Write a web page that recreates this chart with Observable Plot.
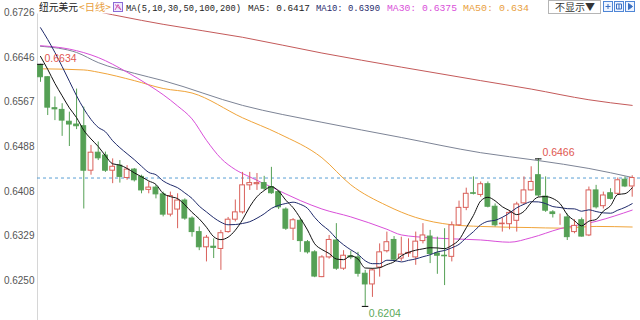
<!DOCTYPE html>
<html><head><meta charset="utf-8">
<script src="https://cdn.jsdelivr.net/npm/d3@7"></script>
<script src="https://cdn.jsdelivr.net/npm/@observablehq/plot@0.6"></script>
<style>
html,body{margin:0;padding:0;background:#fff;}
#wrap{position:relative;width:640px;height:320px;overflow:hidden;}
#hdr{position:absolute;left:0;top:0;}
</style></head>
<body><div id="wrap"><div id="chart"></div><svg id="hdr" width="640" height="16"></svg></div>
<script>
// ---- daily candles (NZD/USD), day index 0..82 ----
const opens  = [0.6632,0.6611,0.6556,0.6553,0.6532,0.6527,0.6524,0.6445,0.6477,0.6472,
                0.6445,0.6454,0.6432,0.6447,0.6434,0.6411,0.6415,0.6403,0.6367,0.6376,
                0.6392,0.6360,0.6336,0.6309,0.6310,0.6306,0.6336,0.6358,0.6371,0.6419,
                0.6421,0.6423,0.6416,0.6407,0.6376,0.6342,0.6356,0.6318,0.6300,0.6256,
                0.6291,0.6321,0.6271,0.6293,0.6291,0.6262,0.6243,0.6273,0.6302,0.6322,
                0.6289,0.6298,0.6291,0.6320,0.6328,0.6298,0.6294,0.6292,0.6348,0.6379,
                0.6405,0.6402,0.6421,0.6381,0.6350,0.6350,0.6356,0.6387,0.6410,0.6437,
                0.6399,0.6371,0.6365,0.6362,0.6336,0.6357,0.6330,0.6410,0.6382,0.6405,
                0.6404,0.6429,0.6417];
const highs  = [0.6634,0.6612,0.6576,0.6564,0.6549,0.6590,0.6558,0.6490,0.6496,0.6478,
                0.6466,0.6463,0.6454,0.6449,0.6437,0.6425,0.6419,0.6407,0.6407,0.6404,
                0.6395,0.6363,0.6345,0.6330,0.6324,0.6339,0.6362,0.6393,0.6442,0.6442,
                0.6440,0.6435,0.6451,0.6410,0.6379,0.6360,0.6360,0.6321,0.6303,0.6294,
                0.6330,0.6351,0.6303,0.6302,0.6300,0.6268,0.6271,0.6315,0.6336,0.6328,
                0.6327,0.6324,0.6336,0.6351,0.6339,0.6327,0.6342,0.6354,0.6391,0.6414,
                0.6434,0.6425,0.6425,0.6386,0.6361,0.6374,0.6389,0.6434,0.6452,0.6466,
                0.6434,0.6374,0.6368,0.6368,0.6358,0.6361,0.6416,0.6419,0.6407,0.6413,
                0.6432,0.6434,0.6436];
const lows   = [0.6602,0.6543,0.6534,0.6506,0.6488,0.6518,0.6377,0.6437,0.6463,0.6442,
                0.6422,0.6423,0.6428,0.6425,0.6404,0.6404,0.6395,0.6363,0.6363,0.6342,
                0.6357,0.6327,0.6303,0.6283,0.6289,0.6268,0.6334,0.6354,0.6368,0.6410,
                0.6410,0.6410,0.6403,0.6376,0.6339,0.6321,0.6300,0.6297,0.6255,0.6255,
                0.6288,0.6268,0.6268,0.6287,0.6256,0.6204,0.6220,0.6256,0.6299,0.6284,
                0.6284,0.6291,0.6277,0.6315,0.6280,0.6261,0.6241,0.6283,0.6346,0.6374,
                0.6402,0.6398,0.6379,0.6345,0.6336,0.6340,0.6336,0.6385,0.6409,0.6398,
                0.6371,0.6361,0.6348,0.6321,0.6333,0.6327,0.6328,0.6377,0.6377,0.6393,
                0.6401,0.6415,0.6398];
const closes = [0.6611,0.6557,0.6554,0.6534,0.6527,0.6524,0.6445,0.6477,0.6467,0.6445,
                0.6452,0.6434,0.6447,0.6428,0.6410,0.6415,0.6403,0.6367,0.6400,0.6392,
                0.6360,0.6336,0.6309,0.6326,0.6308,0.6334,0.6358,0.6371,0.6419,0.6423,
                0.6423,0.6413,0.6405,0.6380,0.6342,0.6357,0.6320,0.6300,0.6257,0.6291,
                0.6322,0.6271,0.6294,0.6291,0.6262,0.6243,0.6268,0.6300,0.6318,0.6287,
                0.6296,0.6299,0.6319,0.6330,0.6297,0.6294,0.6293,0.6348,0.6379,0.6404,
                0.6404,0.6421,0.6381,0.6348,0.6351,0.6370,0.6385,0.6410,0.6425,0.6401,
                0.6374,0.6368,0.6365,0.6327,0.6347,0.6328,0.6410,0.6380,0.6401,0.6395,
                0.6428,0.6417,0.6432];

// ---- moving averages ----
// first values of MA5 / MA10 (need history before the visible window)
const ma5Lead  = [0.6648,0.6625,0.6600,0.6578];
const ma10Lead = [0.6699,0.6678,0.6655,0.6630,0.6604,0.6578,0.6555,0.6536,0.6522];
// [day, value]
const ma30  = [[0,0.6667],[4,0.6661],[8,0.6646],[12,0.6620],[15,0.6597],[17,0.6580],[19,0.6560],
               [21,0.6537],[23,0.6499],[25,0.6467],[27,0.6447],[29,0.6434],[32,0.6416],[36,0.6392],
               [39,0.6377],[43,0.6363],[48,0.6341],[50,0.6331],[54,0.6326],[57,0.6324],[61,0.6322],
               [65,0.6318],[68,0.6326],[72,0.6342],[77,0.6355],[82,0.6375]];
const ma50  = [[0,0.6626],[6,0.6624],[8,0.6620],[13,0.6605],[17,0.6591],[21,0.6583],[28,0.6539],
               [33,0.6511],[39,0.6468],[43,0.6420],[48,0.6383],[52,0.6362],[57,0.6349],[61,0.6346],
               [68,0.6344],[72,0.6343],[77,0.6346],[82,0.6345]];
const ma100 = [[0,0.6666],[5,0.6655],[8,0.6637],[13,0.6618],[17,0.6605],[28,0.6561],[39,0.6531],
               [50,0.6504],[61,0.6477],[69,0.6463],[76,0.6449],[82,0.6433]];
const ma200 = [[0,0.6746],[5,0.6735],[10,0.6722],[14,0.6712],[17,0.6705],[28,0.6682],[39,0.6654],
               [50,0.6629],[61,0.6605],[68,0.6590],[76,0.6571],[82,0.6561]];

// ---- axis ticks & marked extremes ----
const yTicks = [0.6250,0.6329,0.6408,0.6488,0.6567,0.6646,0.6726];
const markHighDays = [0, 69];
const markLowDays  = [45];

// ---- header ----
const symbolName = "纽元美元";
const periodName = "<日线>";
const maSpec = "MA(5,10,30,50,100,200)";
const maNames = ["MA5","MA10","MA30","MA50"];
const maValues = ["0.6417","0.6390","0.6375","0.634"];

// ---------------------------------------------------------------
const RED = "#d9605a", GREEN = "#55a055";
const days = d3.range(closes.length);
const candles = days.map(i => ({i, o: opens[i], h: highs[i], l: lows[i], c: closes[i]}));
const ups = candles.filter(d => d.c >= d.o);
const downs = candles.filter(d => d.c < d.o);
const movAvg = (k, lead) => days.map(i => ({i, v: i < k - 1 ? lead[i] : d3.mean(closes.slice(i - k + 1, i + 1))}));
const ma5 = movAvg(5, ma5Lead);
const ma10 = movAvg(10, ma10Lead);
const lastClose = closes[closes.length - 1];
const hiMarks = markHighDays.map(i => ({i, v: highs[i]}));
const loMarks = markLowDays.map(i => ({i, v: lows[i]}));
const pair = {x: d => d[0], y: d => d[1], curve: "monotone-x", strokeWidth: 1};

const chart = Plot.plot({
  width: 640, height: 320,
  marginLeft: 37, marginRight: 0, marginTop: 0, marginBottom: 0,
  style: {fontFamily: "'Liberation Sans', Arial, sans-serif", fontSize: "10px", color: "#555", background: "#fff"},
  x: {type: "linear", domain: [0, 82], range: [40, 631.7], axis: null},
  y: {type: "linear", domain: [0.6250, 0.6726], range: [280, 12], ticks: yTicks,
      tickFormat: d => d.toFixed(4), tickSize: 0, tickPadding: 3, label: null},
  marks: [
    Plot.frame({anchor: "left", stroke: "#d6d6d6"}),
    Plot.ruleY([lastClose], {stroke: "#5a9fd4", strokeDasharray: "3,3", strokeWidth: 1}),
    Plot.line(ma200, {...pair, stroke: "#c45a5a"}),
    Plot.line(ma100, {...pair, stroke: "#7d8496"}),
    Plot.line(ma50, {...pair, stroke: "#f0a43a"}),
    Plot.line(ma30, {...pair, stroke: "#d94fd9"}),
    Plot.ruleX(ups, {x: "i", y1: "l", y2: "h", stroke: RED, strokeWidth: 1}),
    Plot.ruleX(downs, {x: "i", y1: "l", y2: "h", stroke: GREEN, strokeWidth: 1}),
    Plot.rect(ups, {x1: d => d.i - 0.33, x2: d => d.i + 0.33, y1: "o", y2: "c", fill: "#fff", stroke: RED, strokeWidth: 1}),
    Plot.rect(downs, {x1: d => d.i - 0.33, x2: d => d.i + 0.33, y1: "o", y2: "c", fill: GREEN, stroke: GREEN, strokeWidth: 1}),
    Plot.line(ma10, {x: "i", y: "v", stroke: "#1f2a6b", strokeWidth: 1, curve: "monotone-x"}),
    Plot.line(ma5, {x: "i", y: "v", stroke: "#111", strokeWidth: 1, curve: "monotone-x"}),
    Plot.ruleY(hiMarks.concat(loMarks), {y: "v", x1: d => d.i - 0.4, x2: d => d.i + 0.5, stroke: "#000", strokeWidth: 1}),
    Plot.text(hiMarks, {x: "i", y: "v", text: d => d.v.toFixed(4), dx: 4, dy: -6, textAnchor: "start", fill: "#e0564f", fontSize: 10.5}),
    Plot.text(loMarks, {x: "i", y: "v", text: d => d.v.toFixed(4), dx: 3.5, dy: 7, textAnchor: "start", fill: "#5aa85a", fontSize: 10.5})
  ]
});
document.getElementById("chart").appendChild(chart);

// ---- header overlay ----
const hdr = d3.select("#hdr");
hdr.append("rect").attr("x", 37).attr("y", 0).attr("width", 603).attr("height", 13.5).attr("fill", "#fff");
const cjk = "'Noto Sans CJK SC', sans-serif";
const mono = "'Liberation Mono', 'DejaVu Sans Mono', monospace";
const segs = [
  {t: symbolName, x: 39, w: 39, c: "#222", f: cjk, s: 9.8},
  {t: periodName, x: 79, w: 32, c: "#e8a040", f: cjk, s: 9.8},
  {t: maSpec, x: 126, w: 115, c: "#222", f: mono, s: 9},
  {t: maNames[0] + ": " + maValues[0], x: 248, w: 62, c: "#222", f: mono, s: 9},
  {t: maNames[1] + ": " + maValues[1], x: 316, w: 64, c: "#1f2a6b", f: mono, s: 9},
  {t: maNames[2] + ": " + maValues[2], x: 387, w: 70, c: "#d94fd9", f: mono, s: 9},
  {t: maNames[3] + ": " + maValues[3], x: 463, w: 66, c: "#e8a040", f: mono, s: 9}
];
segs.forEach(s => {
  hdr.append("text").attr("x", s.x).attr("y", 11).attr("font-size", s.s).attr("font-family", s.f)
    .attr("fill", s.c).attr("textLength", s.w).attr("lengthAdjust", "spacingAndGlyphs").text(s.t);
});
// MA icon
hdr.append("rect").attr("x", 113.5).attr("y", 2.5).attr("width", 9).attr("height", 9)
  .attr("fill", "#f1eaff").attr("stroke", "#8b6ad6");
hdr.append("path").attr("d", "M115,10 L118,4.5 L121,10 M115,4.5 L121,10").attr("stroke", "#d05cb0").attr("fill", "none");
// button
hdr.append("rect").attr("x", 548.5).attr("y", 0.5).attr("width", 52).attr("height", 13)
  .attr("fill", "#fff").attr("stroke", "#b5b5b5");
hdr.append("text").attr("x", 555).attr("y", 11).attr("font-size", 9.8).attr("font-family", cjk)
  .attr("fill", "#333").attr("textLength", 40).attr("lengthAdjust", "spacingAndGlyphs").text("不显示▼");
// small tool icons
[603.5, 614.5, 625.5].forEach((x, k) => {
  hdr.append("rect").attr("x", x).attr("y", 1.5).attr("width", 9).attr("height", 10)
    .attr("fill", "#eef4ff").attr("stroke", "#4f86d6");
  const p = k === 0 ? `M${x+2},${6.5} H${x+7} M${x+4.5},4 V9`
          : k === 1 ? `M${x+2},4 H${x+7} V9 H${x+2} Z M${x+4.5},4 V9`
          : `M${x+3},3.5 L${x+7},6.5 L${x+3},9.5 Z`;
  hdr.append("path").attr("d", p).attr("stroke", "#3a6fc0").attr("fill", k === 2 ? "#3a6fc0" : "none").attr("stroke-width", 1);
});
</script>
</body></html>
